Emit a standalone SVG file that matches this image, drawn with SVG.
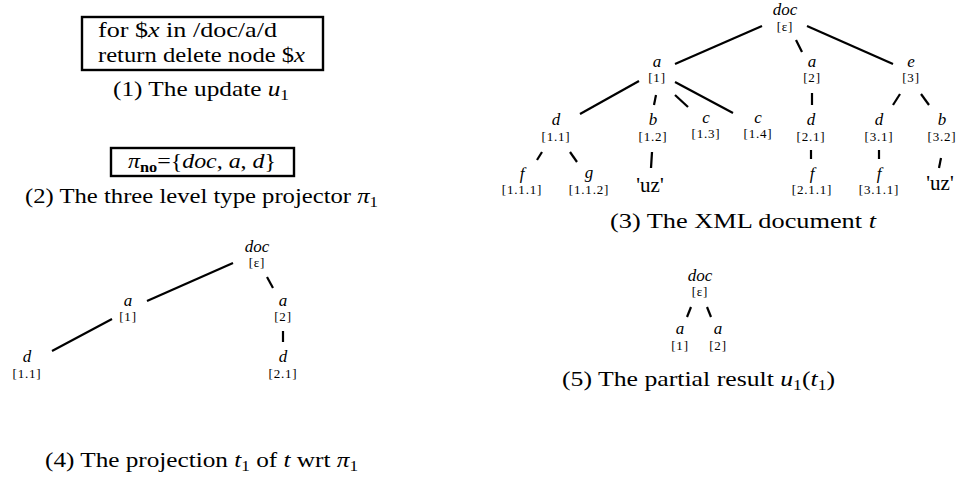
<svg xmlns="http://www.w3.org/2000/svg" width="958" height="478" viewBox="0 0 958 478">
<style>
text{font-family:"Liberation Serif","Times New Roman",serif;fill:#000}
.body{font-size:22px}
.it{font-style:italic}
.bf{font-weight:bold}
.nm{font-size:17px;font-style:italic;text-anchor:middle}
.pos{font-size:13px;letter-spacing:0.8px;text-anchor:middle}
.uz{font-size:21px;text-anchor:middle}
.cap{font-size:22px}
.box{fill:none;stroke:#000;stroke-width:2.4}
#edges line{stroke:#000;stroke-width:2.2;stroke-linecap:butt}
</style>
<rect width="958" height="478" fill="#fff"/>

<g id="update-u1">
<rect class="box" x="82" y="17" width="241" height="53"/>
<text class="body" x="98" y="37" textLength="179" lengthAdjust="spacingAndGlyphs">for $<tspan class="it">x</tspan> in /doc/a/d</text>
<text class="body" x="98" y="62" textLength="207" lengthAdjust="spacingAndGlyphs">return delete node $<tspan class="it">x</tspan></text>
<text class="cap" x="113" y="96" textLength="176" lengthAdjust="spacingAndGlyphs">(1) The update <tspan class="it">u</tspan><tspan font-size="15" dy="4">1</tspan></text>
</g>

<g id="projector-pi1">
<rect class="box" x="111" y="148" width="183" height="28"/>
<text class="body" x="128" y="168" textLength="148" lengthAdjust="spacingAndGlyphs"><tspan class="it">π</tspan><tspan class="bf" font-size="15" dy="4">no</tspan><tspan dy="-4">={</tspan><tspan class="it">doc</tspan>, <tspan class="it">a</tspan>, <tspan class="it">d</tspan>}</text>
<text class="cap" x="25" y="203" textLength="353" lengthAdjust="spacingAndGlyphs">(2) The three level type projector <tspan class="it">π</tspan><tspan font-size="15" dy="4">1</tspan></text>
</g>

<g id="edges">
<!-- tree t -->
<line x1="675" y1="64" x2="762" y2="26"/>
<line x1="796" y1="40" x2="802" y2="52"/>
<line x1="807" y1="26" x2="893" y2="64"/>
<line x1="639" y1="81" x2="580" y2="114"/>
<line x1="656" y1="95" x2="654" y2="105"/>
<line x1="675" y1="95" x2="688" y2="107"/>
<line x1="675" y1="82" x2="733" y2="113"/>
<line x1="812" y1="93" x2="812" y2="105"/>
<line x1="900" y1="94" x2="893" y2="105"/>
<line x1="921" y1="94" x2="929" y2="105"/>
<line x1="542" y1="152" x2="537" y2="160"/>
<line x1="570" y1="152" x2="577" y2="162"/>
<line x1="652" y1="152" x2="651" y2="168"/>
<line x1="811" y1="150" x2="811" y2="159"/>
<line x1="879" y1="150" x2="879" y2="159"/>
<line x1="941" y1="158" x2="939" y2="168"/>
<!-- tree t1 -->
<line x1="147" y1="301" x2="233" y2="263"/>
<line x1="267" y1="277" x2="273" y2="288"/>
<line x1="112" y1="319" x2="52" y2="351"/>
<line x1="283" y1="331" x2="283" y2="342"/>
<!-- tree u1(t1) -->
<line x1="691" y1="307" x2="687" y2="317"/>
<line x1="707" y1="307" x2="711" y2="317"/>
</g>

<!-- tree t -->
<g id="t-doc"><text class="nm" x="785" y="15">doc</text><text class="pos" x="785" y="31">[ε]</text></g>
<g id="t-a1"><text class="nm" x="657" y="67">a</text><text class="pos" x="657" y="82">[1]</text></g>
<g id="t-a2"><text class="nm" x="812" y="67">a</text><text class="pos" x="812" y="82">[2]</text></g>
<g id="t-e3"><text class="nm" x="911" y="67">e</text><text class="pos" x="911" y="82">[3]</text></g>
<g id="t-d11"><text class="nm" x="556" y="125">d</text><text class="pos" x="556" y="141">[1.1]</text></g>
<g id="t-b12"><text class="nm" x="653" y="125">b</text><text class="pos" x="653" y="141">[1.2]</text></g>
<g id="t-c13"><text class="nm" x="706" y="123">c</text><text class="pos" x="706" y="138">[1.3]</text></g>
<g id="t-c14"><text class="nm" x="758" y="123">c</text><text class="pos" x="758" y="138">[1.4]</text></g>
<g id="t-d21"><text class="nm" x="811" y="125">d</text><text class="pos" x="811" y="141">[2.1]</text></g>
<g id="t-d31"><text class="nm" x="879" y="125">d</text><text class="pos" x="879" y="141">[3.1]</text></g>
<g id="t-b32"><text class="nm" x="942" y="125">b</text><text class="pos" x="942" y="141">[3.2]</text></g>
<g id="t-f111"><text class="nm" x="522" y="179">f</text><text class="pos" x="522" y="194">[1.1.1]</text></g>
<g id="t-g112"><text class="nm" x="589" y="178">g</text><text class="pos" x="589" y="194">[1.1.2]</text></g>
<g id="t-uz1"><text class="uz" x="650" y="192">'uz'</text></g>
<g id="t-f211"><text class="nm" x="812" y="179">f</text><text class="pos" x="812" y="194">[2.1.1]</text></g>
<g id="t-f311"><text class="nm" x="879" y="179">f</text><text class="pos" x="879" y="194">[3.1.1]</text></g>
<g id="t-uz2"><text class="uz" x="940" y="190">'uz'</text></g>
<text class="cap" x="610" y="228" textLength="266" lengthAdjust="spacingAndGlyphs">(3) The XML document <tspan class="it">t</tspan></text>

<!-- tree t1 -->
<g id="t1-doc"><text class="nm" x="257" y="252">doc</text><text class="pos" x="257" y="267">[ε]</text></g>
<g id="t1-a1"><text class="nm" x="128" y="306">a</text><text class="pos" x="128" y="321">[1]</text></g>
<g id="t1-a2"><text class="nm" x="283" y="306">a</text><text class="pos" x="283" y="321">[2]</text></g>
<g id="t1-d11"><text class="nm" x="27" y="362">d</text><text class="pos" x="27" y="378">[1.1]</text></g>
<g id="t1-d21"><text class="nm" x="283" y="362">d</text><text class="pos" x="283" y="378">[2.1]</text></g>
<text class="cap" x="45" y="467" textLength="313" lengthAdjust="spacingAndGlyphs">(4) The projection <tspan class="it">t</tspan><tspan font-size="15" dy="4">1</tspan><tspan dy="-4"> of </tspan><tspan class="it">t</tspan> wrt <tspan class="it">π</tspan><tspan font-size="15" dy="4">1</tspan></text>

<!-- tree u1(t1) -->
<g id="r-doc"><text class="nm" x="700" y="281">doc</text><text class="pos" x="700" y="296">[ε]</text></g>
<g id="r-a1"><text class="nm" x="680" y="334">a</text><text class="pos" x="680" y="350">[1]</text></g>
<g id="r-a2"><text class="nm" x="718" y="334">a</text><text class="pos" x="718" y="350">[2]</text></g>
<text class="cap" x="562" y="386" textLength="273" lengthAdjust="spacingAndGlyphs">(5) The partial result <tspan class="it">u</tspan><tspan font-size="15" dy="4">1</tspan><tspan dy="-4">(</tspan><tspan class="it">t</tspan><tspan font-size="15" dy="4">1</tspan><tspan dy="-4">)</tspan></text>
</svg>
